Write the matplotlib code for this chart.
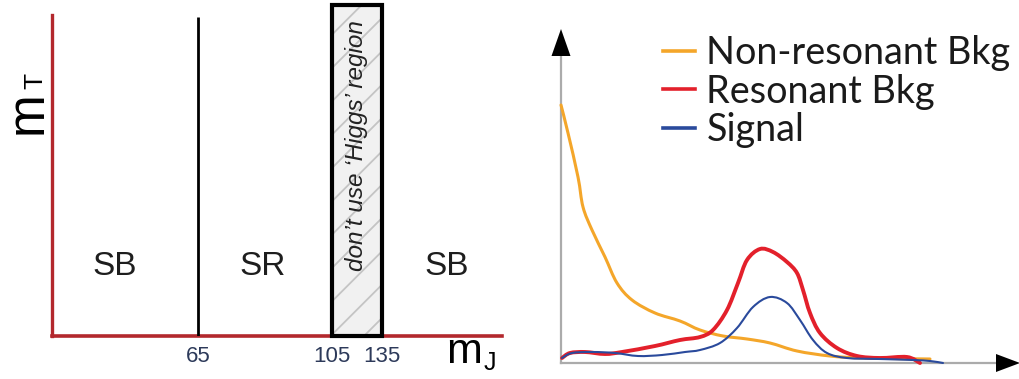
import numpy as np
import matplotlib
matplotlib.use("Agg")
import matplotlib.pyplot as plt
from matplotlib.patches import Rectangle, Polygon, PathPatch
from matplotlib.path import Path
from matplotlib.lines import Line2D

# ---------------- data ----------------
# left panel: mass-window schematic
boundary_ticks = [65, 105, 135]
boundary_labels = ["65", "105", "135"]
region_labels = ["SB", "SR", "SB"]
excluded_window = (105, 135)
excluded_label = "don\u2019t use \u2018Higgs\u2019 region"

# right panel: sketched distributions (arbitrary units)
orange_x = [0, 7, 17, 22, 31, 44, 56, 71, 94, 119, 139, 162, 186, 209, 236, 269, 302, 369]
orange_y = [258, 230, 186, 156, 133, 106, 80, 63, 50, 42, 33, 27, 24, 20, 12, 7, 5, 4]

red_x = [1, 9, 24, 44, 61, 94, 119, 139, 152, 166, 177, 186, 199, 212, 226, 236, 242, 249, 259, 276, 296, 319, 346, 359]
red_y = [5, 10, 11, 9, 11, 17, 23, 26, 33, 53, 80, 103, 114, 111, 101, 90, 73, 50, 30, 15, 7, 5, 6, 0]

blue_x = [1, 11, 31, 54, 77, 101, 124, 139, 159, 176, 192, 209, 226, 239, 252, 266, 286, 319, 352, 369, 382]
blue_y = [5, 10, 11, 10, 7, 8, 11, 13, 20, 35, 56, 66, 60, 43, 23, 10, 5, 4, 3, 2, 0]

series_names = ["Non-resonant Bkg", "Resonant Bkg", "Signal"]
series_colors = ["#F4A62A", "#E3202B", "#2A4A9C"]

# ---------------- figure ----------------
W, H = 1020, 379
fig = plt.figure(figsize=(W / 100, H / 100), dpi=100)
fig.patch.set_facecolor("white")

def fig_rect(x0, y0, x1, y1):
    """pixel box (top-left origin) -> figure fraction rect"""
    return [x0 / W, 1 - y1 / H, (x1 - x0) / W, (y1 - y0) / H]

# ---------- left panel ----------
axL = fig.add_axes(fig_rect(52, 5, 502, 336))
anchor_m = [0, 65, 105, 135, 200]
anchor_p = [0, 146, 280, 330, 450]
fwd = lambda v: np.interp(v, anchor_m, anchor_p)
inv = lambda v: np.interp(v, anchor_p, anchor_m)
axL.set_xscale("function", functions=(fwd, inv))
axL.set_xlim(0, 200)
axL.set_ylim(0, 1)
axL.set_facecolor("none")
red_axis = "#B3282D"
for s in ["top", "right"]:
    axL.spines[s].set_visible(False)
axL.spines["left"].set_color(red_axis)
axL.spines["bottom"].set_color(red_axis)
axL.spines["left"].set_linewidth(2.4)
axL.spines["bottom"].set_linewidth(2.6)
axL.spines["left"].set_bounds(0, 0.97)
axL.set_yticks([])
axL.set_xticks(boundary_ticks)
axL.set_xticklabels(boundary_labels, fontsize=16, color="#2D3A5A",
                    family="Liberation Sans")
axL.tick_params(axis="x", length=0, pad=7)
axL.xaxis.set_minor_locator(matplotlib.ticker.NullLocator())

# separator line at first boundary
axL.plot([boundary_ticks[0], boundary_ticks[0]], [0, 0.964], color="black",
         lw=2.0, solid_capstyle="butt", zorder=3)

# excluded (hatched) window
plt.rcParams["hatch.linewidth"] = 1.3
axL.add_patch(Rectangle((excluded_window[0], 0), excluded_window[1] - excluded_window[0], 1,
                        facecolor="#F1F1F1", edgecolor="#C4C4C4", hatch="/", lw=0,
                        clip_on=False, zorder=2))
axL.add_patch(Rectangle((excluded_window[0], 0), excluded_window[1] - excluded_window[0], 1,
                        facecolor="none", edgecolor="black", lw=3.0,
                        clip_on=False, zorder=4))
axL.text(np.mean(excluded_window), 0.575, excluded_label, rotation=90,
         ha="center", va="center", fontsize=17.5, style="italic",
         family="Liberation Sans", color="#222222", zorder=5)

# region labels
region_x = [0.14, 0.467, 0.878]
for xf, lab in zip(region_x, region_labels):
    axL.text(xf, 0.211, lab, transform=axL.transAxes, ha="center", va="center",
             fontsize=24, family="Liberation Sans", color="#1E1E1E")

# axis labels m_T and m_J
def ftext(x, y, s, **kw):
    fig.text(x / W, 1 - y / H, s, family="Liberation Sans", color="black", **kw)

ftext(42, 134, "m", fontsize=37, rotation=90, rotation_mode="anchor",
      ha="left", va="baseline")
ftext(42, 89, "T", fontsize=19, rotation=90, rotation_mode="anchor",
      ha="left", va="baseline")
ftext(446, 363, "m", fontsize=31, ha="left", va="baseline")
ftext(484, 370, "J", fontsize=18, ha="left", va="baseline")

# ---------- right panel ----------
axR = fig.add_axes(fig_rect(561, 29, 1020, 363))
axR.set_xlim(0, 459)
axR.set_ylim(0, 334)
axR.set_facecolor("none")
for s in ["top", "right"]:
    axR.spines[s].set_visible(False)
for s in ["left", "bottom"]:
    axR.spines[s].set_color("#ABABAB")
    axR.spines[s].set_linewidth(1.6)
axR.spines["left"].set_bounds(0, 310)
axR.spines["bottom"].set_bounds(0, 437)
axR.set_xticks([])
axR.set_yticks([])

# arrow heads
axR.add_patch(Polygon([[-9.5, 307], [9.5, 307], [0, 334]], closed=True,
                      facecolor="black", edgecolor="none", clip_on=False, zorder=5))
axR.add_patch(Polygon([[435, 9], [435, -9], [459, 0]], closed=True,
                      facecolor="black", edgecolor="none", clip_on=False, zorder=5))


def smooth_path(xs, ys):
    """Catmull-Rom curve through the read points, drawn as cubic Beziers."""
    P = np.column_stack([xs, ys]).astype(float)
    Q = np.vstack([P[0], P, P[-1]])
    verts = [P[0]]
    codes = [Path.MOVETO]
    for i in range(1, len(Q) - 2):
        p0, p1, p2, p3 = Q[i - 1], Q[i], Q[i + 1], Q[i + 2]
        verts += [p1 + (p2 - p0) / 6, p2 - (p3 - p1) / 6, p2]
        codes += [Path.CURVE4] * 3
    return Path(verts, codes)


for xs, ys, c, lw, z in [(orange_x, orange_y, series_colors[0], 2.2, 3),
                         (red_x, red_y, series_colors[1], 2.8, 3),
                         (blue_x, blue_y, series_colors[2], 1.5, 4)]:
    axR.add_patch(PathPatch(smooth_path(xs, ys), facecolor="none", edgecolor=c,
                            lw=lw, joinstyle="round", capstyle="round",
                            clip_on=False, zorder=z))

handles = [Line2D([], [], color=c, lw=2.6) for c in series_colors]
leg = fig.legend(handles, series_names, loc="upper left",
                 bbox_to_anchor=(663 / W, 1 - 35 / H), frameon=False,
                 prop={"family": "Lato", "size": 27.2},
                 handlelength=0.84, handletextpad=0.31, labelspacing=0.07,
                 borderaxespad=0, borderpad=0)
for t in leg.get_texts():
    t.set_color("#1A1A1A")

fig.savefig("out.png", dpi=100, facecolor="white")
